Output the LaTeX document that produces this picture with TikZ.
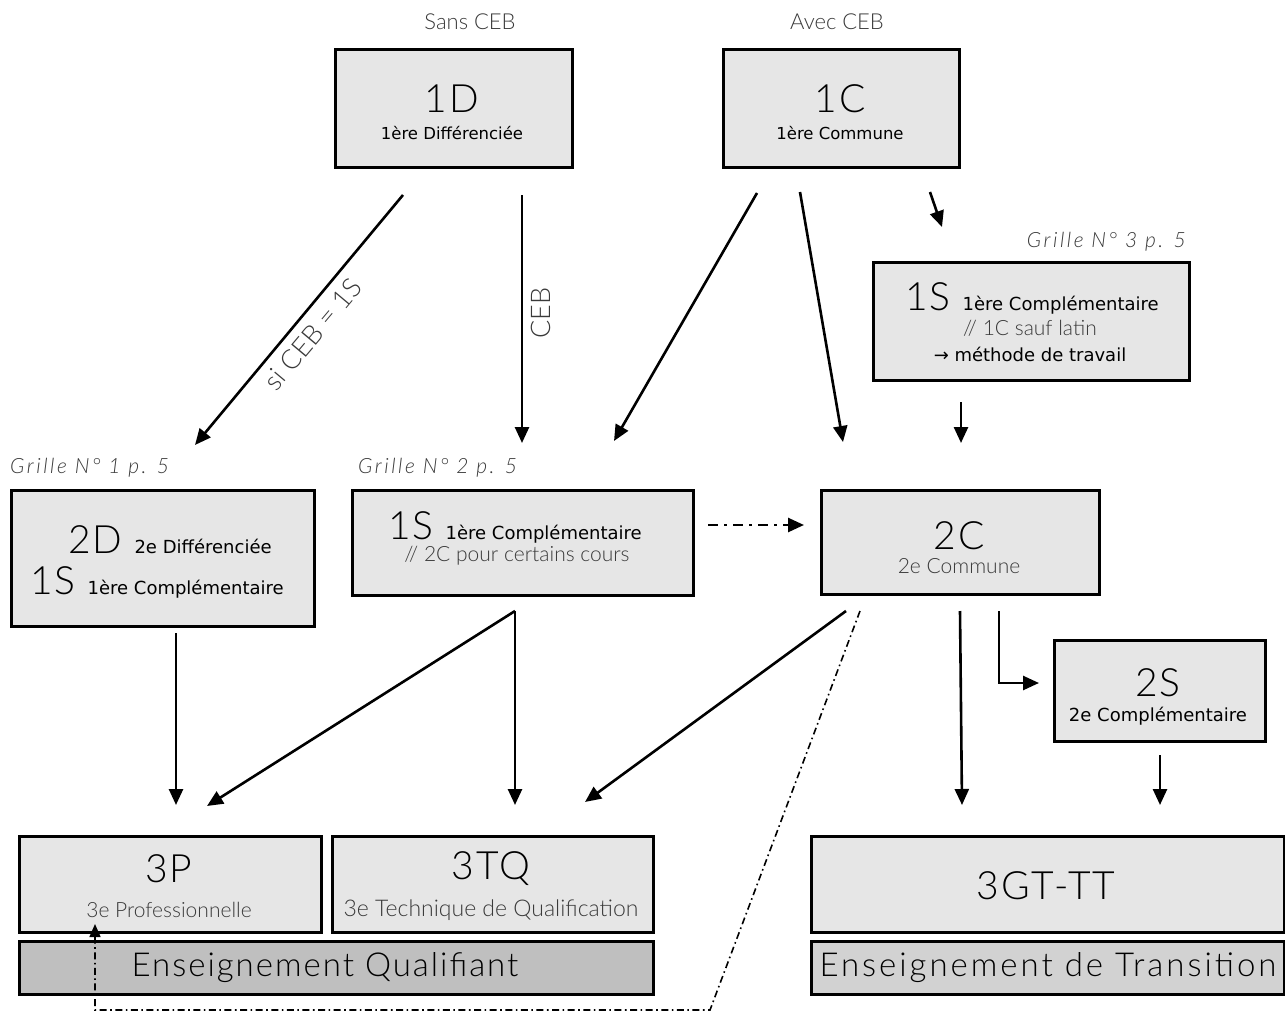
\documentclass[tikz,border=0pt]{standalone}
\usepackage{fontspec}
\setmainfont{Lato}
\newfontfamily\lt{Lato Light}
\newfontfamily\ltb{Lato Light}[LetterSpace=5]
\newfontfamily\ltg{Lato Light}[LetterSpace=12]
\newfontfamily\ltw{Lato Light}[LetterSpace=6]
\newfontfamily\ltx{Lato Light}[LetterSpace=9]
\newfontfamily\dv{DejaVu Sans}
\usetikzlibrary{arrows.meta}
\definecolor{boxgray}{HTML}{E6E6E6}
\definecolor{qualgray}{HTML}{BFBFBF}
\definecolor{trangray}{HTML}{D2D2D2}
\definecolor{txtgray}{HTML}{3A3A3A}
\newcommand{\bigtxt}[1]{{\ltb\fontsize{39}{39}\selectfont #1}}
\newcommand{\smtxt}[1]{{\dv\fontsize{18}{18}\selectfont #1}}
\begin{document}
\begin{tikzpicture}[x=1pt,y=-1pt,
  box/.style={draw=black, line width=3pt, fill=boxgray, anchor=north west, inner sep=0pt},
  arr/.style={line width=2.6pt, -{Triangle[length=16pt,width=14pt]}},
  dd/.style={line width=2.6pt, dash pattern=on 10pt off 6pt on 3pt off 6pt, -{Triangle[length=16pt,width=14pt]}},
  ddthin/.style={line width=1.6pt, dash pattern=on 7pt off 3.5pt on 1.6pt off 3.5pt, -{Triangle[length=13pt,width=11pt]}},
  big/.style={font=\ltb\fontsize{39}{39}\selectfont, text=black, inner sep=0pt},
  sm/.style={font=\dv\fontsize{18}{18}\selectfont, text=black, inner sep=0pt},
  smt/.style={font=\dv\fontsize{16.5}{16.5}\selectfont, text=black, inner sep=0pt},
  gr/.style={font=\lt\fontsize{21}{21}\selectfont, text=txtgray, inner sep=0pt},
  hdr/.style={font=\lt\fontsize{22}{22}\selectfont, text=txtgray, inner sep=0pt},
  grille/.style={font=\ltg\itshape\fontsize{21}{21}\selectfont, text=txtgray, inner sep=0pt},
  lbl/.style={font=\lt\fontsize{27}{27}\selectfont, text=txtgray, inner sep=0pt},
  ens/.style={font=\ltw\fontsize{33}{33}\selectfont, text=black, inner sep=0pt}
]
\useasboundingbox (0,0) rectangle (1285,1030);

% headers
\node[hdr] (hSans) at (470,22) {Sans CEB};
\node[hdr] (hAvec) at (837,22) {Avec CEB};

% top boxes
\node[box, minimum width=237pt, minimum height=118pt] (b1D) at (334,48) {};
\node[big] (t1D) at (452,99) {1D};
\node[smt] (s1D) at (452,133) {1ère Différenciée};

\node[box, minimum width=236pt, minimum height=118pt] (b1C) at (722,48) {};
\node[big] (t1C) at (840,99) {1C};
\node[smt] (s1C) at (840,133) {1ère Commune};

% 1S right
\node[grille, anchor=east] (g3) at (1186,242) {Grille N° 3 p. 5};
\node[box, minimum width=316pt, minimum height=118pt] (b1Sr) at (872,261) {};
\node[inner sep=0pt] (t1Sr) at (1032,298) {\bigtxt{1S}\hspace{12pt}\smtxt{1ère Complémentaire}};
\node[gr] (s1Sr) at (1030,328) {// 1C sauf latin};
\node[sm] (m1Sr) at (1030,354) {→ méthode de travail};

% 2D
\node[grille, anchor=west] (g1) at (10,468) {Grille N° 1 p. 5};
\node[box, minimum width=303pt, minimum height=136pt] (b2D) at (10,489) {};
\node[inner sep=0pt] (t2D) at (170,540) {\bigtxt{2D}\hspace{12pt}\smtxt{2e Différenciée}};
\node[inner sep=0pt] (t1Sd) at (157,582) {\bigtxt{1S}\hspace{12pt}\smtxt{1ère Complémentaire}};

% 1S middle
\node[grille, anchor=west] (g2) at (358,468) {Grille N° 2 p. 5};
\node[box, minimum width=341pt, minimum height=105pt] (b1Sm) at (351,489) {};
\node[inner sep=0pt] (t1Sm) at (515,527) {\bigtxt{1S}\hspace{12pt}\smtxt{1ère Complémentaire}};
\node[gr] (s1Sm) at (517,556) {// 2C pour certains cours};

% 2C
\node[box, minimum width=278pt, minimum height=104pt] (b2C) at (820,489) {};
\node[big] (t2C) at (959,536) {2C};
\node[gr] (s2C) at (959,566) {2e Commune};

% 2S
\node[box, minimum width=211pt, minimum height=101pt] (b2S) at (1053,639) {};
\node[big] (t2S) at (1158,683) {2S};
\node[sm] (s2S) at (1158,716) {2e Complémentaire};

% bottom
\node[box, minimum width=302pt, minimum height=96pt] (b3P) at (18,835) {};
\node[big] (t3P) at (169,869) {3P};
\node[gr] (s3P) at (169,910) {3e Professionnelle};

\node[box, minimum width=321pt, minimum height=96pt] (b3TQ) at (331,835) {};
\node[big] (t3TQ) at (491,869) {3TQ};
\node[gr, font=\lt\fontsize{23}{23}\selectfont] (s3TQ) at (491,910) {3e Technique de Qualification};

\node[box, minimum width=473pt, minimum height=96pt] (b3GT) at (810,835) {};
\node[big] (t3GT) at (1046,886) {3GT-TT};

\node[box, fill=qualgray, minimum width=634pt, minimum height=53pt] (bEQ) at (18,940) {};
\node[ens] (tEQ) at (325,968) {Enseignement Qualifiant};
\node[box, fill=trangray, minimum width=473pt, minimum height=53pt] (bET) at (810,940) {};
\node[ens, font=\ltx\fontsize{33}{33}\selectfont] (tET) at (1048,968) {Enseignement de Transition};

% rotated labels
\node[lbl, rotate=50] (lSi) at (313,334) {si CEB = 1S};
\node[lbl, rotate=90] (lCEB) at (541,313) {CEB};

% connector coordinates
\coordinate (a1s) at (403,195); \coordinate (a1e) at (195,445);
\coordinate (a2s) at (522,195); \coordinate (a2e) at (522,443);
\coordinate (a3s) at (757,193); \coordinate (a3e) at (614,441);
\coordinate (a4s) at (800,192); \coordinate (a4e) at (843,442);
\coordinate (a5s) at (930,192); \coordinate (a5e) at (942,227);
\coordinate (a6s) at (961,402); \coordinate (a6e) at (961,443);
\coordinate (a7s) at (708,525); \coordinate (a7e) at (804,525);
\coordinate (a8s) at (176,633); \coordinate (a8e) at (176,805);
\coordinate (a9s) at (515,611); \coordinate (a9e) at (207,806);
\coordinate (a10e) at (515,805);
\coordinate (a11s) at (846,611); \coordinate (a11e) at (585,802);
\coordinate (a12s) at (960,611); \coordinate (a12e) at (962,805);
\coordinate (a13s) at (999,611); \coordinate (a13e) at (1039,683);
\coordinate (a14s) at (1160,755); \coordinate (a14e) at (1160,805);
\coordinate (d1) at (860,611); \coordinate (d2) at (710,1010);
\coordinate (d3) at (95,1010); \coordinate (d4) at (95,924);

\draw[arr] (a1s) -- (a1e);
\draw[arr] (a2s) -- (a2e);
\draw[arr] (a3s) -- (a3e);
\draw[arr] (a4s) -- (a4e);
\draw[arr] (a5s) -- (a5e);
\draw[arr] (a6s) -- (a6e);
\draw[dd] (a7s) -- (a7e);
\draw[arr] (a8s) -- (a8e);
\draw[arr] (a9s) -- (a9e);
\draw[arr] (a9s) -- (a10e);
\draw[arr] (a11s) -- (a11e);
\draw[arr] (a12s) -- (a12e);
\draw[arr] (a13s) |- (a13e);
\draw[arr] (a14s) -- (a14e);
\draw[ddthin] (d1) -- (d2) -- (d3) -- (d4);
\end{tikzpicture}
\end{document}
